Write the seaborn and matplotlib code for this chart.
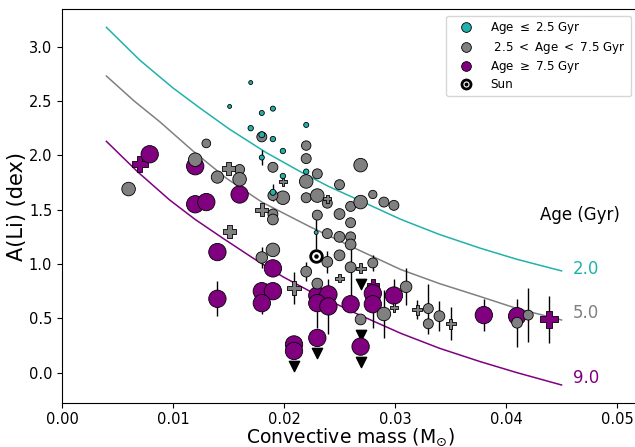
import matplotlib
matplotlib.use('Agg')
import matplotlib.pyplot as plt
from matplotlib.lines import Line2D
from matplotlib.legend_handler import HandlerTuple
import numpy as np
import pandas as pd
import seaborn as sns

# ---------------- colours ----------------
c_young = '#20b2aa'
c_mid = 'gray'
c_old = 'purple'

# ---------------- data ----------------
# Age <= 2.5 Gyr (circles)
young_mcz = [0.0170, 0.0151, 0.0180, 0.0190, 0.0170, 0.0180, 0.0190, 0.0199,
             0.0180, 0.0220, 0.0220, 0.0199, 0.0190, 0.0229]
young_ali = [2.67, 2.45, 2.39, 2.43, 2.25, 2.19, 2.15, 2.04,
             1.98, 2.28, 1.85, 1.81, 1.66, 1.29]
young_err = [0, 0, 0, 0, 0, 0, 0, 0, 0.07, 0, 0, 0, 0.08, 0.15]
young_age = [1.0, 1.0, 1.3, 1.3, 1.4, 1.6, 1.4, 1.4, 1.3, 1.3, 1.4, 1.4, 1.6, 1.0]
young_lim = [0] * len(young_mcz)

# 2.5 < Age < 7.5 Gyr (circles)
mid_mcz = [0.0060, 0.0130, 0.0120, 0.0140, 0.0160, 0.0160, 0.0180, 0.0220,
           0.0220, 0.0190, 0.0230, 0.0220, 0.0269, 0.0250, 0.0199, 0.0190,
           0.0220, 0.0230, 0.0239, 0.0260, 0.0269, 0.0280, 0.0290, 0.0299,
           0.0190, 0.0190, 0.0230, 0.0250, 0.0260, 0.0239, 0.0250, 0.0260,
           0.0260, 0.0190, 0.0180, 0.0250, 0.0239, 0.0280, 0.0260, 0.0220,
           0.0230, 0.0269, 0.0290, 0.0310, 0.0330, 0.0330, 0.0340, 0.0410,
           0.0420]
mid_ali = [1.69, 2.11, 1.96, 1.80, 1.87, 1.78, 2.17, 2.09,
           1.97, 1.89, 1.83, 1.76, 1.91, 1.73, 1.61, 1.63,
           1.61, 1.63, 1.56, 1.53, 1.57, 1.64, 1.57, 1.54,
           1.46, 1.41, 1.45, 1.46, 1.38, 1.28, 1.25, 1.25,
           1.18, 1.13, 1.06, 1.08, 1.02, 1.01, 0.97, 0.93,
           0.82, 0.49, 0.54, 0.79, 0.59, 0.45, 0.52, 0.46,
           0.53]
mid_err = [0, 0, 0, 0, 0, 0, 0, 0,
           0, 0, 0, 0, 0, 0, 0, 0,
           0, 0, 0, 0, 0, 0, 0, 0,
           0, 0, 0, 0, 0, 0, 0, 0,
           0, 0, 0.10, 0, 0.10, 0.07, 0.30, 0.09,
           0, 0, 0.22, 0.17, 0.23, 0, 0.14, 0.22,
           0.25]
mid_age = [6.0, 2.8, 6.0, 5.0, 3.5, 6.0, 3.5, 3.2,
           3.5, 3.5, 3.5, 6.0, 6.0, 3.5, 6.0, 3.5,
           3.5, 6.0, 3.5, 3.5, 6.0, 2.6, 3.5, 3.5,
           3.5, 4.0, 3.5, 4.0, 3.5, 3.5, 4.0, 3.5,
           4.0, 6.0, 4.5, 4.0, 4.0, 3.5, 4.0, 4.0,
           4.0, 4.0, 6.0, 4.5, 3.5, 3.5, 4.0, 4.0,
           3.5]
mid_lim = [0] * len(mid_mcz)
mid_lim[41] = 1

# 2.5 < Age < 7.5 Gyr (plus symbols)
midp_mcz = [0.0150, 0.0180, 0.0151, 0.0199, 0.0239, 0.0269, 0.0209, 0.0250,
            0.0299, 0.0320, 0.0350]
midp_ali = [1.88, 1.50, 1.30, 1.76, 1.60, 0.96, 0.78, 0.87,
            0.60, 0.58, 0.45]
midp_err = [0, 0, 0, 0, 0, 0, 0.15, 0, 0, 0.09, 0.15]
midp_age = [5.5, 5.5, 5.5, 2.6, 2.6, 3.5, 6.0, 2.6, 2.6, 3.5, 3.5]
midp_lim = [0, 0, 0, 0, 0, 1, 0, 0, 0, 0, 0]

# Age >= 7.5 Gyr (circles)
old_mcz = [0.0079, 0.0120, 0.0120, 0.0130, 0.0160, 0.0140, 0.0140, 0.0190,
           0.0180, 0.0190, 0.0180, 0.0230, 0.0240, 0.0230, 0.0240, 0.0230,
           0.0209, 0.0209, 0.0260, 0.0280, 0.0280, 0.0299, 0.0269, 0.0380,
           0.0410]
old_ali = [2.01, 1.90, 1.55, 1.57, 1.64, 1.11, 0.68, 0.96,
           0.75, 0.75, 0.64, 0.71, 0.72, 0.64, 0.61, 0.32,
           0.26, 0.20, 0.63, 0.73, 0.63, 0.71, 0.24, 0.53,
           0.52]
old_err = [0, 0, 0, 0, 0, 0, 0.16, 0,
           0, 0, 0.10, 0, 0, 0.23, 0.25, 0,
           0, 0, 0, 0, 0.22, 0.15, 0, 0.15,
           0]
old_age = [9.5] * len(old_mcz)
old_lim = [0] * len(old_mcz)
for i in (15, 17, 22):
    old_lim[i] = 1

# Age >= 7.5 Gyr (plus symbols)
oldp_mcz = [0.0070, 0.0280, 0.0439]
oldp_ali = [1.92, 0.81, 0.49]
oldp_err = [0, 0, 0.22]
oldp_age = [8.0, 5.0, 10.0]
oldp_lim = [0, 0, 0]

# Sun
sun_mcz = 0.0229
sun_ali = 1.074

# depletion curves for three ages (Gyr)
curve_labels = ['2.0', '5.0', '9.0']
curve_mcz = {
    '2.0': [0.0040, 0.0070, 0.0100, 0.0125, 0.0151, 0.0184, 0.0217, 0.0240,
            0.0266, 0.0305, 0.0340, 0.0377, 0.0410, 0.0450],
    '5.0': [0.0040, 0.0065, 0.0088, 0.0118, 0.0148, 0.0180, 0.0223, 0.0266,
            0.0305, 0.0340, 0.0377, 0.0410, 0.0450],
    '9.0': [0.0040, 0.0068, 0.0097, 0.0120, 0.0145, 0.0172, 0.0199, 0.0225,
            0.0265, 0.0305, 0.0340, 0.0377, 0.0410, 0.0450],
}
curve_ali = {
    '2.0': [3.178, 2.877, 2.62, 2.43, 2.24, 2.025, 1.837, 1.715,
            1.595, 1.412, 1.272, 1.145, 1.043, 0.937],
    '5.0': [2.73, 2.50, 2.31, 2.04, 1.79, 1.57, 1.345, 1.135,
            0.95, 0.82, 0.70, 0.59, 0.485],
    '9.0': [2.129, 1.85, 1.589, 1.41, 1.237, 1.055, 0.883, 0.74,
            0.545, 0.363, 0.225, 0.101, 0.0, -0.113],
}
curve_colors = {'2.0': c_young, '5.0': c_mid, '9.0': c_old}
curve_text_y = {'2.0': 0.95, '5.0': 0.55, '9.0': -0.05}


def block(group, kind, mcz, ali, err, age, lim):
    return pd.DataFrame({'group': group, 'kind': kind, 'mcz': mcz, 'ali': ali,
                         'err': err, 'age': age, 'lim': lim})


# draw order: old first, then mid, then young on top
stars = pd.concat([
    block('old', 'plus', oldp_mcz, oldp_ali, oldp_err, oldp_age, oldp_lim),
    block('old', 'circle', old_mcz, old_ali, old_err, old_age, old_lim),
    block('mid', 'circle', mid_mcz, mid_ali, mid_err, mid_age, mid_lim),
    block('mid', 'plus', midp_mcz, midp_ali, midp_err, midp_age, midp_lim),
    block('young', 'circle', young_mcz, young_ali, young_err, young_age, young_lim),
], ignore_index=True)

# ---------------- figure ----------------
fig = plt.figure(figsize=(6.35, 4.47), dpi=100)
ax = fig.add_axes([62 / 635, 43.7 / 447, 577 / 635, 394 / 447])

# curves
for lab in curve_labels:
    sns.lineplot(x=curve_mcz[lab], y=curve_ali[lab], color=curve_colors[lab],
                 lw=1.1, sort=False, ax=ax, zorder=1)
    ax.text(0.0460, curve_text_y[lab], lab, color=curve_colors[lab],
            fontsize=12, ha='left', va='center')
ax.text(0.0431, 1.45, 'Age (Gyr)', fontsize=12, ha='left', va='center')

# error bars
e = stars[stars['err'] > 0]
ax.errorbar(e['mcz'], e['ali'], yerr=e['err'], fmt='none', ecolor='black',
            elinewidth=1, capsize=0, zorder=2)

# upper limits
l = stars[stars['lim'] == 1]
ax.scatter(l['mcz'], l['ali'] - 0.14, marker='v', s=55, color='black', zorder=2)

# stars
sns.scatterplot(data=stars, x='mcz', y='ali', hue='group',
                palette={'young': c_young, 'mid': c_mid, 'old': c_old},
                size='age', sizes=(8, 165), size_norm=(1, 10),
                style='kind', markers={'circle': 'o', 'plus': 'P'},
                edgecolor='black', linewidth=0.6, legend=False, ax=ax, zorder=3)

# Sun
ax.scatter([sun_mcz], [sun_ali], s=70, facecolor='white', edgecolor='black',
           linewidth=2, zorder=4)
ax.scatter([sun_mcz], [sun_ali], s=5, color='black', zorder=5)

ax.set_xlim(0, 0.05198)
ax.set_ylim(-0.2816, 3.344)
ax.set_xticks([0.00, 0.01, 0.02, 0.03, 0.04, 0.05])
ax.set_yticks([0.0, 0.5, 1.0, 1.5, 2.0, 2.5, 3.0])
ax.tick_params(labelsize=10.5)
ax.tick_params(axis='x', pad=3)
ax.set_xlabel(r'Convective mass (M$_{\odot}$)', fontsize=13.5, labelpad=-0.5)
ax.set_ylabel('A(Li) (dex)', fontsize=15, labelpad=1)

# legend
h_young = Line2D([], [], marker='o', ls='', markerfacecolor=c_young,
                 markeredgecolor='black', markeredgewidth=0.6, markersize=7)
h_mid = Line2D([], [], marker='o', ls='', markerfacecolor=c_mid,
               markeredgecolor='black', markeredgewidth=0.6, markersize=7)
h_old = Line2D([], [], marker='o', ls='', markerfacecolor=c_old,
               markeredgecolor='black', markeredgewidth=0.6, markersize=7)
h_sun = (Line2D([], [], marker='o', ls='', markerfacecolor='white',
                markeredgecolor='black', markeredgewidth=2, markersize=6.5),
         Line2D([], [], marker='o', ls='', color='black', markersize=1.8))
ax.legend([h_young, h_mid, h_old, h_sun],
          [r'Age $\leq$ 2.5 Gyr', r' 2.5 $<$ Age $<$ 7.5 Gyr',
           r'Age $\geq$ 7.5 Gyr', 'Sun'],
          handler_map={tuple: HandlerTuple(ndivide=1)},
          loc='upper right', bbox_to_anchor=(0.986, 0.984), borderaxespad=0,
          fontsize=8.6, labelspacing=0.28, handlelength=2.5)

fig.savefig('out.png', dpi=100)
